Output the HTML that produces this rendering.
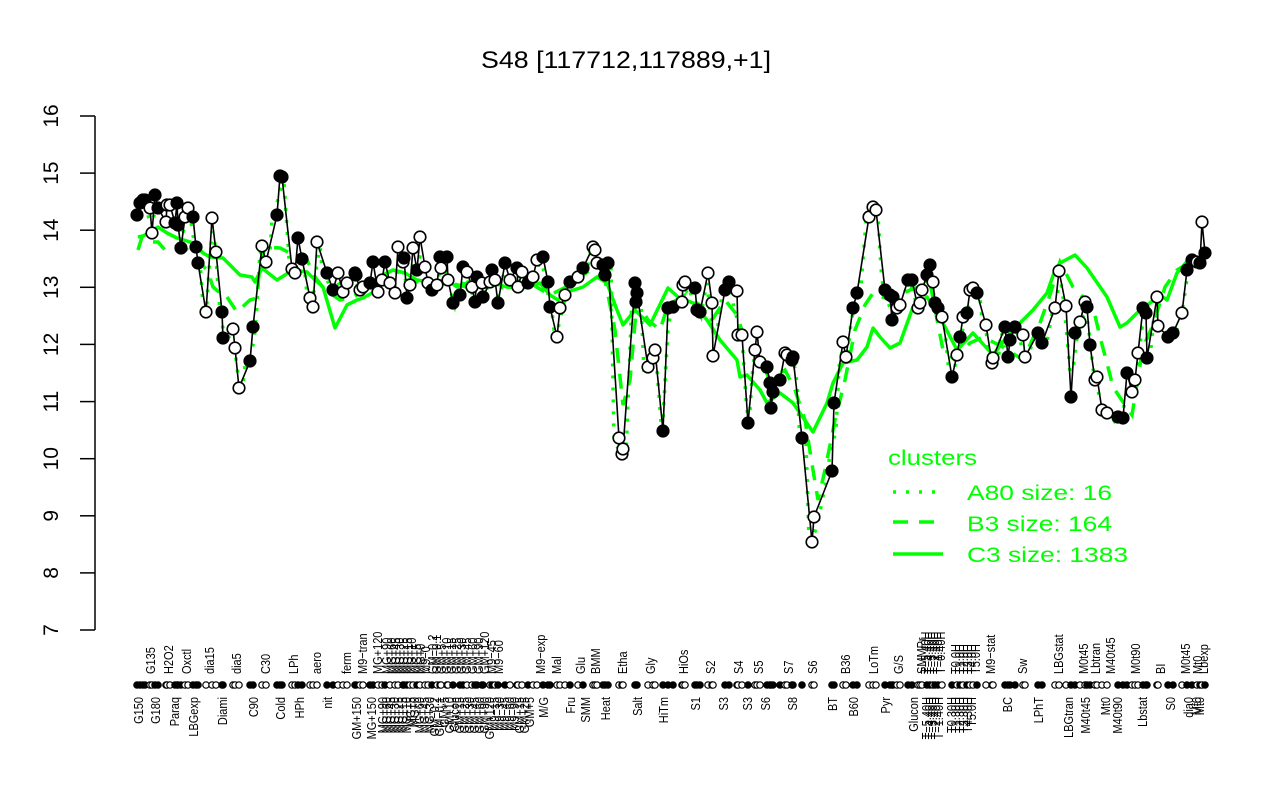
<!DOCTYPE html>
<html>
<head>
<meta charset="utf-8">
<style>
html,body{margin:0;padding:0;background:#fff;}
svg{display:block;font-family:"Liberation Sans",Arial,sans-serif;}
.xl{font-size:11px;fill:#000;}
</style>
</head>
<body>
<svg id="s" width="1280" height="800" viewBox="0 0 1280 800" xmlns="http://www.w3.org/2000/svg">
<rect width="1280" height="800" fill="#fff"/>
<text x="626" y="68" font-size="24" text-anchor="middle" textLength="290" lengthAdjust="spacingAndGlyphs">S48 [117712,117889,+1]</text>
<g stroke="#000" stroke-width="1.5">
<line x1="95" y1="116" x2="95" y2="630"/>
<line x1="80" y1="116" x2="95" y2="116"/>
<line x1="80" y1="173.1" x2="95" y2="173.1"/>
<line x1="80" y1="230.2" x2="95" y2="230.2"/>
<line x1="80" y1="287.3" x2="95" y2="287.3"/>
<line x1="80" y1="344.4" x2="95" y2="344.4"/>
<line x1="80" y1="401.6" x2="95" y2="401.6"/>
<line x1="80" y1="458.7" x2="95" y2="458.7"/>
<line x1="80" y1="515.8" x2="95" y2="515.8"/>
<line x1="80" y1="572.9" x2="95" y2="572.9"/>
<line x1="80" y1="630" x2="95" y2="630"/>
</g>
<g font-size="21" text-anchor="middle">
<text transform="translate(58,116) rotate(-90)">16</text>
<text transform="translate(58,173.1) rotate(-90)">15</text>
<text transform="translate(58,230.2) rotate(-90)">14</text>
<text transform="translate(58,287.3) rotate(-90)">13</text>
<text transform="translate(58,344.4) rotate(-90)">12</text>
<text transform="translate(58,401.6) rotate(-90)">11</text>
<text transform="translate(58,458.7) rotate(-90)">10</text>
<text transform="translate(58,515.8) rotate(-90)">9</text>
<text transform="translate(58,572.9) rotate(-90)">8</text>
<text transform="translate(58,630) rotate(-90)">7</text>
</g>

<g id="dyn"></g>

<!-- upper x labels -->
<g class="xl" text-anchor="start">
<text transform="translate(150,674) scale(1.2,1) rotate(-90)" y="4">G135</text>
<text transform="translate(168,674) scale(1.2,1) rotate(-90)" y="4">H2O2</text>
<text transform="translate(186,674) scale(1.2,1) rotate(-90)" y="4">Oxctl</text>
<text transform="translate(209,674) scale(1.2,1) rotate(-90)" y="4">dia15</text>
<text transform="translate(236,674) scale(1.2,1) rotate(-90)" y="4">dia5</text>
<text transform="translate(265,674) scale(1.2,1) rotate(-90)" y="4">C30</text>
<text transform="translate(293,674) scale(1.2,1) rotate(-90)" y="4">LPh</text>
<text transform="translate(316,674) scale(1.2,1) rotate(-90)" y="4">aero</text>
<text transform="translate(346,674) scale(1.2,1) rotate(-90)" y="4">ferm</text>
<text transform="translate(362,674) scale(1.2,1) rotate(-90)" y="4">M9−tran</text>
<text transform="translate(377,674) scale(1.2,1) rotate(-90)" y="4">MG+120</text>
<text transform="translate(386,674) scale(1.2,1) rotate(-90)" y="4">MG+90</text>
<text transform="translate(391,674) scale(1.2,1) rotate(-90)" y="4">MG+60</text>
<text transform="translate(395,674) scale(1.2,1) rotate(-90)" y="4">MG+45</text>
<text transform="translate(399,674) scale(1.2,1) rotate(-90)" y="4">MG+30</text>
<text transform="translate(403,674) scale(1.2,1) rotate(-90)" y="4">MG+25</text>
<text transform="translate(407,674) scale(1.2,1) rotate(-90)" y="4">MG+15</text>
<text transform="translate(411,674) scale(1.2,1) rotate(-90)" y="4">MG+10</text>
<text transform="translate(416,674) scale(1.2,1) rotate(-90)" y="4">MG+5</text>
<text transform="translate(420,674) scale(1.2,1) rotate(-90)" y="4">MG+0</text>
<text transform="translate(425,674) scale(1.2,1) rotate(-90)" y="4">M9−0</text>
<text transform="translate(432,674) scale(1.2,1) rotate(-90)" y="4">GM−0.2</text>
<text transform="translate(436,674) scale(1.2,1) rotate(-90)" y="4">GM−0.1</text>
<text transform="translate(441,674) scale(1.2,1) rotate(-90)" y="4">GM+5</text>
<text transform="translate(446,674) scale(1.2,1) rotate(-90)" y="4">GM+10</text>
<text transform="translate(451,674) scale(1.2,1) rotate(-90)" y="4">GM+15</text>
<text transform="translate(456,674) scale(1.2,1) rotate(-90)" y="4">GM+25</text>
<text transform="translate(461,674) scale(1.2,1) rotate(-90)" y="4">GM+30</text>
<text transform="translate(466,674) scale(1.2,1) rotate(-90)" y="4">GM+45</text>
<text transform="translate(472,674) scale(1.2,1) rotate(-90)" y="4">GM+60</text>
<text transform="translate(478,674) scale(1.2,1) rotate(-90)" y="4">GM+90</text>
<text transform="translate(484,674) scale(1.2,1) rotate(-90)" y="4">GM+120</text>
<text transform="translate(491,674) scale(1.2,1) rotate(-90)" y="4">M9−45</text>
<text transform="translate(498,674) scale(1.2,1) rotate(-90)" y="4">M9−60</text>
<text transform="translate(540,674) scale(1.2,1) rotate(-90)" y="4">M9−exp</text>
<text transform="translate(556,674) scale(1.2,1) rotate(-90)" y="4">Mal</text>
<text transform="translate(580,674) scale(1.2,1) rotate(-90)" y="4">Glu</text>
<text transform="translate(595,674) scale(1.2,1) rotate(-90)" y="4">BMM</text>
<text transform="translate(622,674) scale(1.2,1) rotate(-90)" y="4">Etha</text>
<text transform="translate(650,674) scale(1.2,1) rotate(-90)" y="4">Gly</text>
<text transform="translate(683,674) scale(1.2,1) rotate(-90)" y="4">HiOs</text>
<text transform="translate(710,674) scale(1.2,1) rotate(-90)" y="4">S2</text>
<text transform="translate(738,674) scale(1.2,1) rotate(-90)" y="4">S4</text>
<text transform="translate(758,674) scale(1.2,1) rotate(-90)" y="4">S5</text>
<text transform="translate(788,674) scale(1.2,1) rotate(-90)" y="4">S7</text>
<text transform="translate(812,674) scale(1.2,1) rotate(-90)" y="4">S6</text>
<text transform="translate(845,674) scale(1.2,1) rotate(-90)" y="4">B36</text>
<text transform="translate(873,674) scale(1.2,1) rotate(-90)" y="4">LoTm</text>
<text transform="translate(898,674) scale(1.2,1) rotate(-90)" y="4">G/S</text>
<text transform="translate(921,674) scale(1.2,1) rotate(-90)" y="4">SMMPr</text>
<text transform="translate(925,674) scale(1.2,1) rotate(-90)" y="4">T−5.40H</text>
<text transform="translate(928,674) scale(1.2,1) rotate(-90)" y="4">T−4.40H</text>
<text transform="translate(931,674) scale(1.2,1) rotate(-90)" y="4">T−3.40H</text>
<text transform="translate(934,674) scale(1.2,1) rotate(-90)" y="4">T−2.40H</text>
<text transform="translate(937,674) scale(1.2,1) rotate(-90)" y="4">T−1.40H</text>
<text transform="translate(940,674) scale(1.2,1) rotate(-90)" y="4">T−0.40H</text>
<text transform="translate(955,674) scale(1.2,1) rotate(-90)" y="4">T0.0H</text>
<text transform="translate(959,674) scale(1.2,1) rotate(-90)" y="4">T1.0H</text>
<text transform="translate(963,674) scale(1.2,1) rotate(-90)" y="4">T2.0H</text>
<text transform="translate(967,674) scale(1.2,1) rotate(-90)" y="4">T3.0H</text>
<text transform="translate(971,674) scale(1.2,1) rotate(-90)" y="4">T4.0H</text>
<text transform="translate(975,674) scale(1.2,1) rotate(-90)" y="4">T5.0H</text>
<text transform="translate(990,674) scale(1.2,1) rotate(-90)" y="4">M9−stat</text>
<text transform="translate(1022,674) scale(1.2,1) rotate(-90)" y="4">Sw</text>
<text transform="translate(1058,674) scale(1.2,1) rotate(-90)" y="4">LBGstat</text>
<text transform="translate(1083,674) scale(1.2,1) rotate(-90)" y="4">M0t45</text>
<text transform="translate(1095,674) scale(1.2,1) rotate(-90)" y="4">Lbtran</text>
<text transform="translate(1110,674) scale(1.2,1) rotate(-90)" y="4">M40t45</text>
<text transform="translate(1135,674) scale(1.2,1) rotate(-90)" y="4">M0t90</text>
<text transform="translate(1160,674) scale(1.2,1) rotate(-90)" y="4">BI</text>
<text transform="translate(1185,674) scale(1.2,1) rotate(-90)" y="4">M0t45</text>
<text transform="translate(1197,674) scale(1.2,1) rotate(-90)" y="4">Mt0</text>
<text transform="translate(1203,674) scale(1.2,1) rotate(-90)" y="4">Lbexp</text>
</g>

<!-- lower x labels -->
<g class="xl" text-anchor="end">
<text transform="translate(138,697) scale(1.2,1) rotate(-90)" y="4">G150</text>
<text transform="translate(155,697) scale(1.2,1) rotate(-90)" y="4">G180</text>
<text transform="translate(174,697) scale(1.2,1) rotate(-90)" y="4">Paraq</text>
<text transform="translate(193,697) scale(1.2,1) rotate(-90)" y="4">LBGexp</text>
<text transform="translate(222,697) scale(1.2,1) rotate(-90)" y="4">Diami</text>
<text transform="translate(253,697) scale(1.2,1) rotate(-90)" y="4">C90</text>
<text transform="translate(280,697) scale(1.2,1) rotate(-90)" y="4">Cold</text>
<text transform="translate(299,697) scale(1.2,1) rotate(-90)" y="4">HPh</text>
<text transform="translate(327,697) scale(1.2,1) rotate(-90)" y="4">nit</text>
<text transform="translate(356,697) scale(1.2,1) rotate(-90)" y="4">GM+150</text>
<text transform="translate(371,697) scale(1.2,1) rotate(-90)" y="4">MG+150</text>
<text transform="translate(382,697) scale(1.2,1) rotate(-90)" y="4">MG+90</text>
<text transform="translate(386,697) scale(1.2,1) rotate(-90)" y="4">MG+60</text>
<text transform="translate(390,697) scale(1.2,1) rotate(-90)" y="4">MG+45</text>
<text transform="translate(394,697) scale(1.2,1) rotate(-90)" y="4">MG+30</text>
<text transform="translate(398,697) scale(1.2,1) rotate(-90)" y="4">MG+25</text>
<text transform="translate(402,697) scale(1.2,1) rotate(-90)" y="4">MG+15</text>
<text transform="translate(406,697) scale(1.2,1) rotate(-90)" y="4">MG+10</text>
<text transform="translate(410,697) scale(1.2,1) rotate(-90)" y="4">MG+5</text>
<text transform="translate(414,697) scale(1.2,1) rotate(-90)" y="4">MG+0</text>
<text transform="translate(419,697) scale(1.2,1) rotate(-90)" y="4">MG+60</text>
<text transform="translate(424,697) scale(1.2,1) rotate(-90)" y="4">MG+45</text>
<text transform="translate(429,697) scale(1.2,1) rotate(-90)" y="4">MG+30</text>
<text transform="translate(434,697) scale(1.2,1) rotate(-90)" y="4">GM−0.2</text>
<text transform="translate(439,697) scale(1.2,1) rotate(-90)" y="4">GM−0.1</text>
<text transform="translate(444,697) scale(1.2,1) rotate(-90)" y="4">GM+5</text>
<text transform="translate(449,697) scale(1.2,1) rotate(-90)" y="4">GM+10</text>
<text transform="translate(454,697) scale(1.2,1) rotate(-90)" y="4">Glucon</text>
<text transform="translate(459,697) scale(1.2,1) rotate(-90)" y="4">GM+15</text>
<text transform="translate(464,697) scale(1.2,1) rotate(-90)" y="4">GM+25</text>
<text transform="translate(469,697) scale(1.2,1) rotate(-90)" y="4">GM+30</text>
<text transform="translate(474,697) scale(1.2,1) rotate(-90)" y="4">GM+45</text>
<text transform="translate(479,697) scale(1.2,1) rotate(-90)" y="4">GM+60</text>
<text transform="translate(484,697) scale(1.2,1) rotate(-90)" y="4">GM+90</text>
<text transform="translate(489,697) scale(1.2,1) rotate(-90)" y="4">GM+120</text>
<text transform="translate(494,697) scale(1.2,1) rotate(-90)" y="4">M9−15</text>
<text transform="translate(499,697) scale(1.2,1) rotate(-90)" y="4">M9−30</text>
<text transform="translate(504,697) scale(1.2,1) rotate(-90)" y="4">M9−45</text>
<text transform="translate(509,697) scale(1.2,1) rotate(-90)" y="4">M9−60</text>
<text transform="translate(514,697) scale(1.2,1) rotate(-90)" y="4">M9−90</text>
<text transform="translate(519,697) scale(1.2,1) rotate(-90)" y="4">GM+15</text>
<text transform="translate(524,697) scale(1.2,1) rotate(-90)" y="4">GM+25</text>
<text transform="translate(529,697) scale(1.2,1) rotate(-90)" y="4">GM+5</text>
<text transform="translate(543,697) scale(1.2,1) rotate(-90)" y="4">M/G</text>
<text transform="translate(570,697) scale(1.2,1) rotate(-90)" y="4">Fru</text>
<text transform="translate(585,697) scale(1.2,1) rotate(-90)" y="4">SMM</text>
<text transform="translate(605,697) scale(1.2,1) rotate(-90)" y="4">Heat</text>
<text transform="translate(637,697) scale(1.2,1) rotate(-90)" y="4">Salt</text>
<text transform="translate(663,697) scale(1.2,1) rotate(-90)" y="4">HiTm</text>
<text transform="translate(695,697) scale(1.2,1) rotate(-90)" y="4">S1</text>
<text transform="translate(723,697) scale(1.2,1) rotate(-90)" y="4">S3</text>
<text transform="translate(747,697) scale(1.2,1) rotate(-90)" y="4">S3</text>
<text transform="translate(765,697) scale(1.2,1) rotate(-90)" y="4">S6</text>
<text transform="translate(792,697) scale(1.2,1) rotate(-90)" y="4">S8</text>
<text transform="translate(832,697) scale(1.2,1) rotate(-90)" y="4">BT</text>
<text transform="translate(853,697) scale(1.2,1) rotate(-90)" y="4">B60</text>
<text transform="translate(885,697) scale(1.2,1) rotate(-90)" y="4">Pyr</text>
<text transform="translate(913,697) scale(1.2,1) rotate(-90)" y="4">Glucon</text>
<text transform="translate(926,697) scale(1.2,1) rotate(-90)" y="4">T−5.40H</text>
<text transform="translate(929,697) scale(1.2,1) rotate(-90)" y="4">T−4.40H</text>
<text transform="translate(932,697) scale(1.2,1) rotate(-90)" y="4">T−3.40H</text>
<text transform="translate(935,697) scale(1.2,1) rotate(-90)" y="4">T−2.40H</text>
<text transform="translate(938,697) scale(1.2,1) rotate(-90)" y="4">T−1.40H</text>
<text transform="translate(951,697) scale(1.2,1) rotate(-90)" y="4">T0.30H</text>
<text transform="translate(955,697) scale(1.2,1) rotate(-90)" y="4">T1.30H</text>
<text transform="translate(959,697) scale(1.2,1) rotate(-90)" y="4">T2.30H</text>
<text transform="translate(963,697) scale(1.2,1) rotate(-90)" y="4">T3.30H</text>
<text transform="translate(967,697) scale(1.2,1) rotate(-90)" y="4">T4.30H</text>
<text transform="translate(971,697) scale(1.2,1) rotate(-90)" y="4">T5.0H</text>
<text transform="translate(1007,697) scale(1.2,1) rotate(-90)" y="4">BC</text>
<text transform="translate(1038,697) scale(1.2,1) rotate(-90)" y="4">LPhT</text>
<text transform="translate(1068,697) scale(1.2,1) rotate(-90)" y="4">LBGtran</text>
<text transform="translate(1085,697) scale(1.2,1) rotate(-90)" y="4">M40t45</text>
<text transform="translate(1105,697) scale(1.2,1) rotate(-90)" y="4">Mt0</text>
<text transform="translate(1117,697) scale(1.2,1) rotate(-90)" y="4">M40t90</text>
<text transform="translate(1142,697) scale(1.2,1) rotate(-90)" y="4">Lbstat</text>
<text transform="translate(1170,697) scale(1.2,1) rotate(-90)" y="4">S0</text>
<text transform="translate(1188,697) scale(1.2,1) rotate(-90)" y="4">dia0</text>
<text transform="translate(1196,697) scale(1.2,1) rotate(-90)" y="4">Mt0</text>
<text transform="translate(1199,697) scale(1.2,1) rotate(-90)" y="4">Mt0</text>
</g>

<!-- legend -->
<g fill="#00ff00" font-size="21">
<text x="888" y="465" textLength="89" lengthAdjust="spacingAndGlyphs">clusters</text>
<text x="967" y="500" textLength="145" lengthAdjust="spacingAndGlyphs">A80 size: 16</text>
<text x="967" y="531" textLength="145" lengthAdjust="spacingAndGlyphs">B3 size: 164</text>
<text x="967" y="562" textLength="161" lengthAdjust="spacingAndGlyphs">C3 size: 1383</text>
</g>
<g stroke="#00ff00" stroke-width="3.5" fill="none">
<line x1="893" y1="492" x2="940" y2="492" stroke-dasharray="3 10"/>
<line x1="893" y1="522" x2="940" y2="522" stroke-dasharray="15 11"/>
<line x1="893" y1="554" x2="943" y2="554"/>
</g>
</svg>
<script>
(function(){
var NS="http://www.w3.org/2000/svg";
var raw="137,215,1 140,203,1 143,200,1 145,200,1 150,208,0 152,233,0 155,195,1 158,208,1 166,222,0 167,205,0 170,205,0 175,223,1 177,203,1 178,225,1 181,248,1 185,217,0 188,208,0 193,217,1 196,247,1 198,263,1 206,312,0 212,218,0 216,252,0 222,312,1 223,338,1 233,329,0 235,348,0 239,388,0 250,361,1 253,327,1 262,246,0 266,262,0 277,215,1 280,176,1 282,177,1 292,269,0 295,273,0 298,238,1 302,259,1 310,298,0 313,307,0 317,242,0 327,273,1 333,290,1 338,273,0 343,292,0 347,283,0 355,273,1 356,275,1 360,290,0 363,287,0 370,283,1 373,262,1 378,292,0 382,280,0 385,262,1 390,283,0 395,293,0 398,247,0 403,262,0 404,258,1 407,298,1 410,285,0 413,248,0 417,270,1 420,237,0 425,267,0 428,283,0 432,290,1 437,285,0 440,257,1 441,268,0 447,257,1 448,280,0 453,303,1 460,295,1 463,267,1 467,272,0 472,287,0 475,302,1 477,277,1 482,283,0 483,297,1 490,282,0 492,270,1 495,280,0 498,303,1 505,263,1 510,280,0 517,268,1 518,287,0 522,272,0 528,283,1 533,277,0 537,260,0 543,257,1 548,282,1 550,307,1 557,337,0 560,308,0 565,295,0 570,282,1 578,277,0 583,268,1 593,247,0 595,250,0 597,263,0 603,265,1 605,275,1 608,263,1 619,438,0 622,454,0 623,449,0 635,283,1 637,293,1 636,302,1 648,367,0 653,358,0 655,350,0 663,431,1 668,308,1 673,307,1 682,302,0 683,285,0 685,282,0 695,288,1 697,310,1 700,312,1 708,273,0 712,303,0 713,356,0 725,290,1 729,282,1 737,291,0 738,335,0 742,335,0 748,423,1 755,350,0 757,332,0 760,362,0 767,367,1 770,383,1 773,392,1 771,408,1 780,380,1 785,353,0 787,355,0 792,360,1 793,357,1 802,438,1 812,542,0 814,517,0 832,471,1 834,403,1 843,342,0 846,357,0 853,308,1 857,293,1 869,217,0 873,207,0 876,210,0 885,290,1 890,295,1 892,320,1 893,297,1 897,308,0 900,305,0 908,280,1 912,280,1 918,308,0 920,303,0 922,290,0 927,275,1 930,265,1 933,282,0 935,303,1 938,308,1 942,317,0 952,377,1 957,355,0 960,337,1 963,317,0 967,313,1 970,290,0 973,288,0 977,293,1 986,325,0 992,363,0 993,358,0 1005,327,1 1008,357,1 1010,340,1 1015,327,1 1023,335,0 1025,357,0 1038,333,1 1042,343,1 1055,308,0 1059,271,0 1066,306,0 1071,397,1 1075,333,1 1080,322,0 1085,302,0 1087,307,1 1090,345,1 1095,380,0 1097,377,0 1102,410,0 1107,413,0 1118,417,1 1123,418,1 1127,373,1 1132,392,0 1135,380,0 1138,353,0 1143,308,1 1146,313,1 1147,358,1 1157,297,0 1158,326,0 1168,337,1 1173,333,1 1182,313,0 1187,270,1 1192,260,1 1197,262,0 1200,263,1 1202,222,0 1205,253,1";
var D=raw.split(/\s+/).map(function(s){return s.split(',').map(Number);});
D.sort(function(a,b){return a[0]-b[0];});
var c3="138,237 143,236 158,227 167,233 177,238 187,241 193,243 203,253 210,257 223,258 240,275 252,277 255,282 262,268 277,280 293,270 307,272 313,278 323,287 335,328 347,305 357,300 363,298 372,293 383,275 393,270 405,273 417,280 430,282 447,280 457,287 467,283 477,287 493,283 507,287 523,288 540,283 550,295 558,300 567,292 583,287 597,277 607,283 617,310 623,325 635,310 650,325 668,288 678,297 693,303 707,320 720,340 737,360 740,377 747,375 760,390 767,403 780,393 793,403 813,432 827,403 833,383 843,363 857,360 867,347 873,328 880,337 890,348 900,343 913,307 927,297 943,323 957,350 973,333 993,355 1007,337 1023,320 1033,310 1047,293 1055,270 1060,263 1075,255 1087,268 1107,297 1120,327 1127,323 1137,313 1150,303 1160,295 1167,300 1177,273 1190,258 1203,257";
var b3="138,250 142,237 150,242 158,242 165,250 180,245 195,255 208,272 213,287 220,293 227,297 237,312 250,300 257,298 260,263 265,247 280,248 290,253 307,260 315,277 325,290 340,300 353,297 370,288 390,282 410,280 430,285 450,283 470,288 490,285 510,287 530,283 550,295 570,285 590,270 605,280 615,330 623,405 630,380 637,300 648,320 660,330 668,305 685,295 700,305 712,320 725,300 737,315 745,340 760,360 770,380 785,370 795,390 805,420 813,470 818,500 825,470 835,420 845,380 855,330 865,305 873,293 890,300 910,290 930,283 943,350 955,360 970,343 983,337 1003,347 1023,360 1040,323 1050,295 1060,262 1073,287 1093,307 1100,337 1107,363 1113,387 1125,405 1132,415 1143,347 1153,325 1165,287 1177,270 1190,262 1205,258";
// dotted: smoothed data
var dot=[];
for(var x=137;x<=1205;x+=3){var s=0,n=0;for(var i=0;i<D.length;i++){var d=Math.abs(D[i][0]-x);if(d<=5){var w=1-d/6;s+=D[i][1]*w;n+=w;}}if(n>0)dot.push(x+","+(s/n+5).toFixed(1));}
var g=document.getElementById('dyn');
function el(t,a){var e=document.createElementNS(NS,t);for(var k in a)e.setAttribute(k,a[k]);g.appendChild(e);return e;}
el('polyline',{points:dot.join(' '),fill:'none',stroke:'#00ff00','stroke-width':3.5,'stroke-dasharray':'3 9'});
el('polyline',{points:b3,fill:'none',stroke:'#00ff00','stroke-width':3.5,'stroke-dasharray':'15 11'});
el('polyline',{points:c3,fill:'none',stroke:'#00ff00','stroke-width':3.5,'stroke-linejoin':'round'});
el('polyline',{points:D.map(function(p){return p[0]+","+p[1];}).join(' '),fill:'none',stroke:'#000','stroke-width':1.6});
D.forEach(function(p){el('circle',{cx:p[0],cy:p[1],r:5.8,fill:p[2]?'#000':'#fff',stroke:'#000','stroke-width':1.6});});
D.forEach(function(p){el('circle',{cx:p[0],cy:685,r:3.2,fill:p[2]?'#000':'#fff',stroke:'#000','stroke-width':1.2});});
})();
</script>
</body>
</html>
